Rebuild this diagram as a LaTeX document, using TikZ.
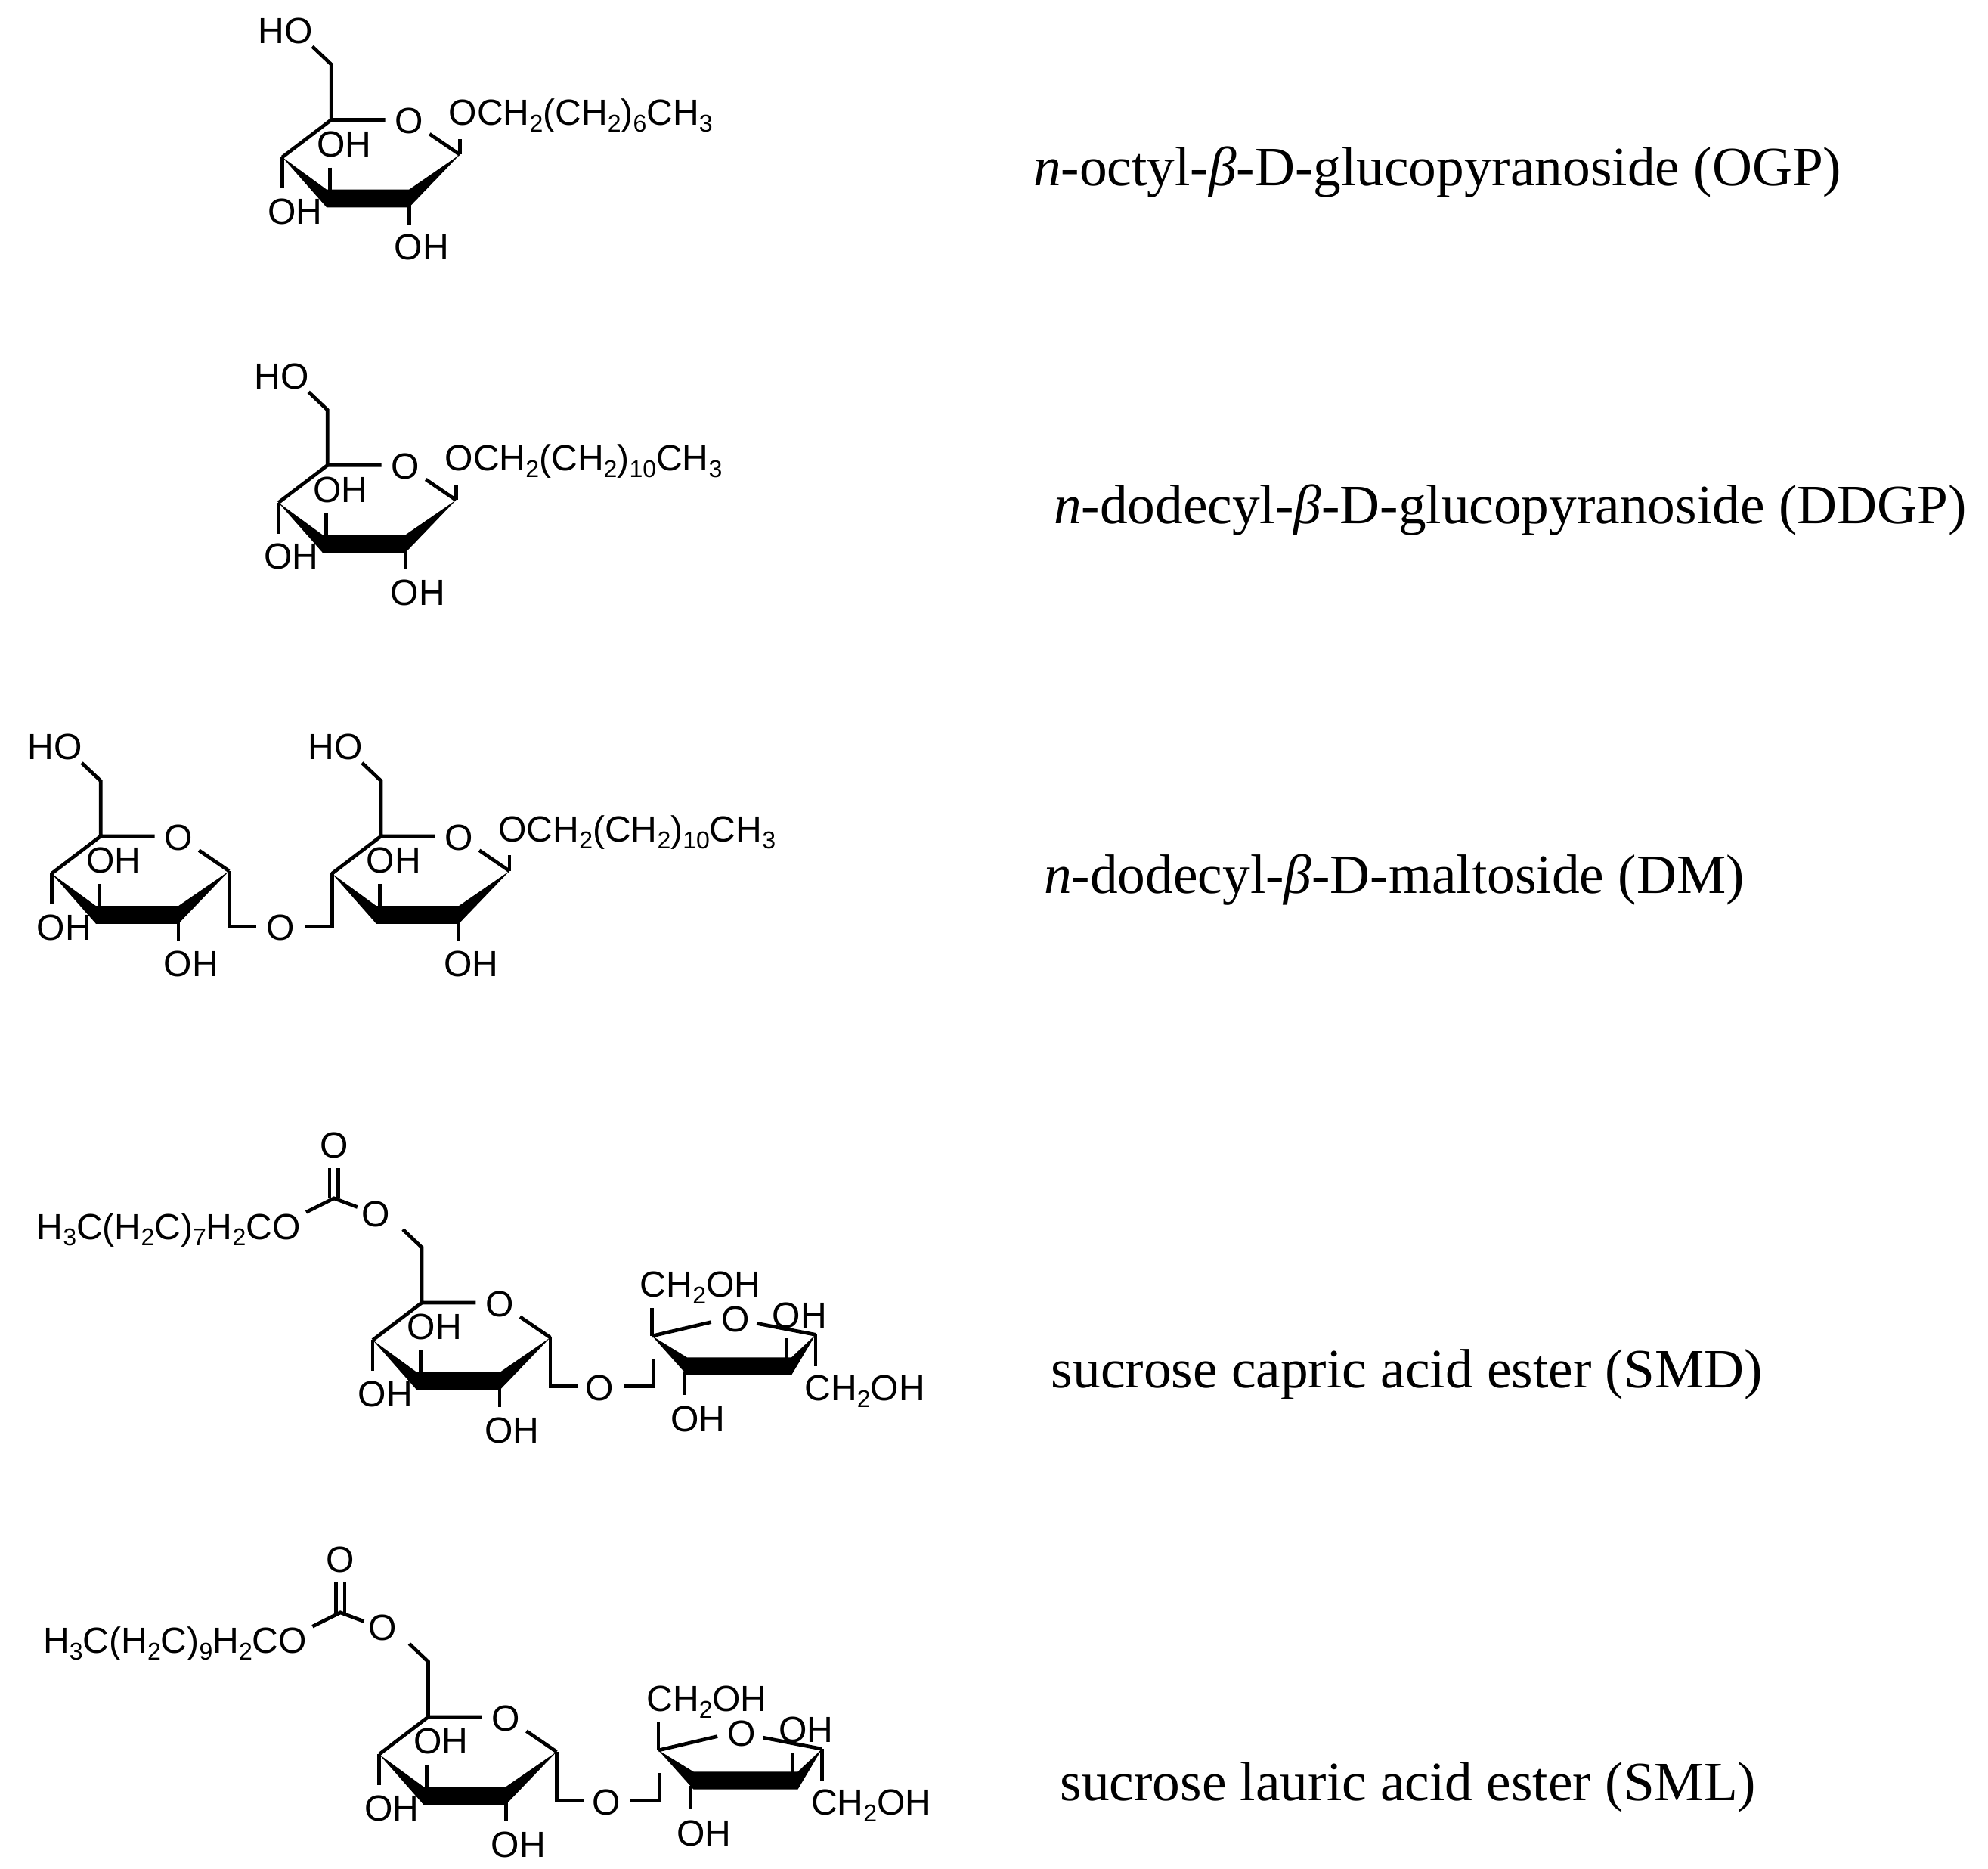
\documentclass[tikz,border=0pt]{standalone}
\usepackage{fontspec}
\setmainfont{Liberation Serif}
\newfontfamily\chemfont{Liberation Sans}
\newcommand\chsub[1]{\raisebox{-0.35ex}{\fontsize{19}{19}\selectfont #1}}
\newcommand\glucore[1]{%
 \draw[bond] (-14.9,-57.5) -- (0,-43.4) -- (0,0) -- (42.3,0);
 \draw[bond] (77.1,11.1) -- (100.8,27.3);
 \draw[bond] (0,0) -- (-38.5,29.3);
 \fill (-38.5,29.3) -- (-3.7,54.7) -- (61,54.7) -- (100.8,27.3) -- (61,68.7) -- (-3.7,68.7) -- cycle;
 \draw[bond] (-1,37.4) -- (-1,56);
 \draw[bond] (61,62) -- (61,81.9);
 \node[ch] (ro) at (61,1.1) {O};
 \node[ch] (oh3) at (10,19.1) {OH};
 \node[ch] (oh2) at (70.9,100.1) {OH};
 \node[ch] (top) at (-36,-69.7) {#1};}
\newcommand\gluring[1]{%
 \glucore{#1}
 \draw[bond] (-38.5,29.3) -- (-38.5,53.6);
 \node[ch] (oh4) at (-28.6,71.8) {OH};}
\newcommand\fruring{%
 \draw[bond] (0,0) -- (0,-21.8);
 \node[ch] (fc6) at (37.9,-37.6) {CH\chsub{2}OH};
 \draw[bond] (0,0) -- (46.3,-10.9);
 \node[ch] (fo) at (65.3,-12.9) {O};
 \draw[bond] (82.1,-9.9) -- (128.3,-1);
 \fill (0,0) -- (27.4,16.8) -- (109.4,16.8) -- (128.3,-1) -- (109.4,30.6) -- (27.4,30.6) -- cycle;
 \draw[bond] (25.3,28) -- (25.3,46.4);
 \node[ch] (foh3) at (35.8,65.2) {OH};
 \draw[bond] (105.3,1.9) -- (105.3,20);
 \draw[bond] (128.3,-1) -- (128.3,23.7);
 \node[ch] (fc1) at (167,43.5) {CH\chsub{2}OH};
 \node[ch] (foh) at (115.7,-15.9) {OH};}
\newcommand\sucrose[1]{%
 \gluring{O}
 \draw[bond] (100.8,27.3) -- (100.8,65.6) -- (122.7,65.6);
 \node[ch] (lo) at (139.7,67) {O};
 \draw[bond] (158.7,65.6) -- (181.8,65.6) -- (181.8,43.9);
 \begin{scope}[shift={(180.7,26.1)}]\fruring\end{scope}
 \draw[bond] (-90.8,-71) -- (-68.9,-81.9) -- (-50.5,-75);
 \draw[bond] (-72.4,-81.9) -- (-72.4,-105.6);
 \draw[bond] (-65.5,-81.9) -- (-65.5,-105.6);
 \node[ch] (co) at (-69,-123.4) {O};
 \node[ch,anchor=east] (chain) at (-95,-57.2) {#1};}
\begin{document}
\begin{tikzpicture}[x=1pt,y=-1pt,
  bond/.style={line width=2.8pt},
  ch/.style={font=\chemfont\fontsize{28.5}{28.5}\selectfont,inner sep=0pt},
  lab/.style={font=\fontsize{43.5}{43.5}\selectfont,inner sep=0pt}]
\useasboundingbox[fill=white] (0,0) rectangle (1560,1466);
% OGP
\begin{scope}[shift={(260,94)}]
 \gluring{HO}
 \draw[bond] (100.8,27.3) -- (100.8,15);
 \node[ch,anchor=west] (t1) at (92,-3) {OCH\chsub{2}(CH\chsub{2})\chsub{6}CH\chsub{3}};
\end{scope}
% DDGP
\begin{scope}[shift={(257,365)}]
 \gluring{HO}
 \draw[bond] (100.8,27.3) -- (100.8,15);
 \node[ch,anchor=west] (t2) at (92,-3) {OCH\chsub{2}(CH\chsub{2})\chsub{10}CH\chsub{3}};
\end{scope}
% DM
\begin{scope}[shift={(79,656)}]
 \gluring{HO}
 \draw[bond] (100.8,27.3) -- (100.8,71) -- (122,71);
 \node[ch] (dmo) at (141,72) {O};
 \draw[bond] (160,71) -- (181.5,71) -- (181.5,29.3);
\end{scope}
\begin{scope}[shift={(299,656)}]
 \glucore{HO}
 \draw[bond] (100.8,27.3) -- (100.8,15);
 \node[ch,anchor=west] (t3) at (92,-3) {OCH\chsub{2}(CH\chsub{2})\chsub{10}CH\chsub{3}};
\end{scope}
% SMD
\begin{scope}[shift={(331,1022)}]
 \sucrose{H\chsub{3}C(H\chsub{2}C)\chsub{7}H\chsub{2}CO}
\end{scope}
% SML
\begin{scope}[shift={(336,1347)}]
 \sucrose{H\chsub{3}C(H\chsub{2}C)\chsub{9}H\chsub{2}CO}
\end{scope}
\node[lab] (l1) at (1128,135) {\textit{n}-octyl-\textit{β}-D-glucopyranoside (OGP)};
\node[lab] (l2) at (1185,400) {\textit{n}-dodecyl-\textit{β}-D-glucopyranoside (DDGP)};
\node[lab] (l3) at (1094,690) {\textit{n}-dodecyl-\textit{β}-D-maltoside (DM)};
\node[lab] (l4) at (1104,1078) {sucrose capric acid ester (SMD)};
\node[lab] (l5) at (1105,1402) {sucrose lauric acid ester (SML)};
\end{tikzpicture}
\end{document}
